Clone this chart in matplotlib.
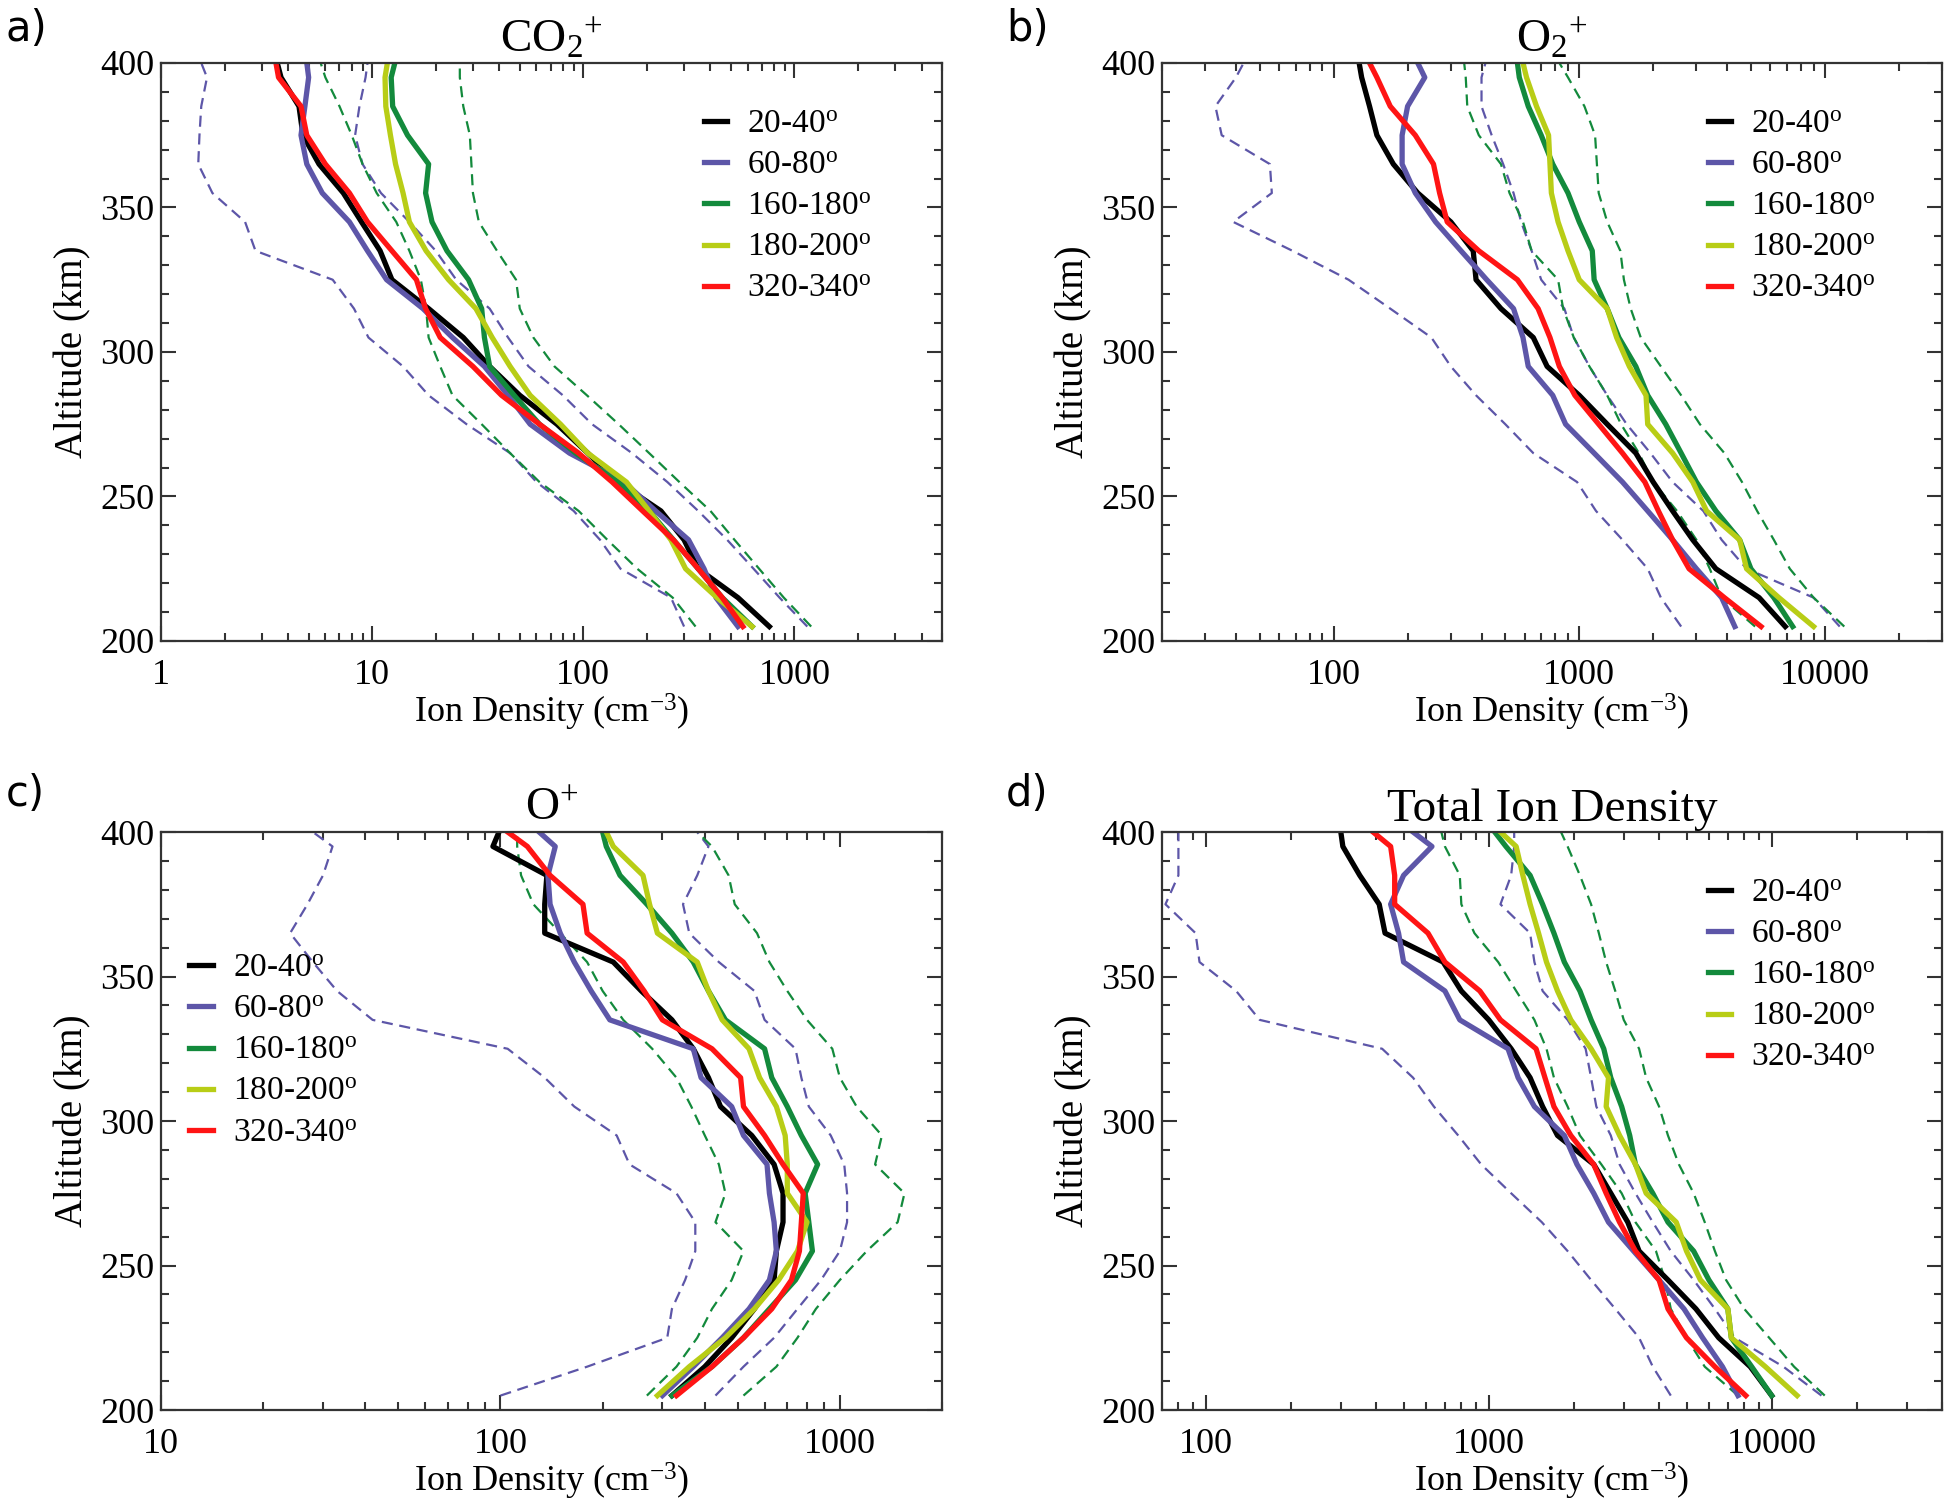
import numpy as np
import matplotlib
matplotlib.use('Agg')
import matplotlib.pyplot as plt
from matplotlib.ticker import LogLocator, MultipleLocator, FuncFormatter, NullFormatter

plt.rcParams['font.family'] = ['Liberation Serif', 'DejaVu Serif']
plt.rcParams['mathtext.fontset'] = 'custom'
plt.rcParams['mathtext.rm'] = 'Liberation Serif'
plt.rcParams['mathtext.it'] = 'Liberation Serif:italic'

# altitude bins (km), last value = top of the plot
alt = [205, 215, 225, 235, 245, 255, 265, 275, 285, 295, 305,
       315, 325, 335, 345, 355, 365, 375, 385, 395, 400]

labels = ['20-40', '60-80', '160-180', '180-200', '320-340']

# ---- a) CO2+
a_2040 = [760, 540, 350, 300, 233, 146, 105, 75, 50, 36, 27, 18.5, 12.4, 10.9, 8.9, 7.3, 5.6, 4.7, 4.5, 3.7, 3.55]
a_6080 = [540, 425, 373, 315, 220, 156, 86, 56, 44, 34, 24, 17.4, 11.7, 9.5, 7.8, 5.8, 4.9, 4.6, 4.8, 5.0, 4.9]
a_160180 = [630, 455, 350, 267, 205, 146, 92, 62, 47, 36, 34, 33, 28.6, 22.6, 19.2, 17.9, 18.5, 14.7, 12.5, 12.3, 12.8]
a_180200 = [630, 430, 305, 260, 205, 160, 105, 78, 56, 45, 37, 31, 23, 18, 15, 14, 12.9, 12.2, 11.6, 11.5, 11.8]
a_320340 = [570, 455, 350, 267, 191, 137, 95, 62, 41, 30, 21, 17.9, 16.2, 12.4, 9.5, 7.8, 6, 4.9, 4.6, 3.6, 3.5]
a_green_hi = [1200, 890, 680, 520, 400, 285, 205, 147, 104, 73, 58, 50, 48, 39, 32, 30, 29.5, 29, 27, 26, 26]
a_green_lo = [340, 265, 180, 130, 95, 62, 45, 33, 24, 21, 18.5, 18, 17, 15, 13, 10.5, 9, 8, 7, 6, 5.7]
a_purple_hi = [1150, 850, 640, 480, 350, 250, 170, 110, 80, 55, 44, 36, 25, 20, 15, 11, 9, 8.3, 8.7, 9.3, 9.5]
a_purple_lo = [300, 260, 150, 120, 90, 60, 45, 28, 18.5, 14, 9.6, 8.2, 6.5, 2.8, 2.5, 1.75, 1.5, 1.52, 1.55, 1.65, 1.55]

# ---- b) O2+
b_2040 = [6900, 5400, 3600, 2900, 2400, 2000, 1700, 1300, 1000, 740, 650, 480, 380, 370, 300, 220, 175, 150, 140, 130, 127]
b_6080 = [4300, 3800, 3000, 2400, 1900, 1500, 1150, 880, 780, 620, 590, 540, 420, 330, 260, 215, 190, 190, 200, 235, 220]
b_160180 = [7400, 6200, 5000, 4500, 3600, 3000, 2600, 2250, 1900, 1700, 1450, 1300, 1150, 1130, 1000, 900, 780, 700, 620, 570, 560]
b_180200 = [9000, 6500, 4800, 4500, 3300, 2900, 2400, 1900, 1870, 1600, 1420, 1300, 1000, 900, 820, 770, 760, 750, 670, 610, 590]
b_320340 = [5500, 3900, 2800, 2400, 2100, 1850, 1500, 1200, 960, 830, 760, 680, 560, 390, 290, 270, 255, 215, 170, 150, 140]
b_green_hi = [12000, 9000, 7200, 6200, 5300, 4600, 3900, 3100, 2600, 2150, 1780, 1620, 1520, 1470, 1300, 1200, 1180, 1160, 1050, 900, 830]
b_green_lo = [5200, 3800, 3400, 3000, 2500, 2000, 1750, 1480, 1300, 1100, 950, 860, 820, 640, 590, 520, 480, 390, 350, 345, 340]
b_purple_hi = [11500, 9000, 4800, 3800, 3200, 2400, 1950, 1560, 1300, 1100, 950, 870, 700, 640, 580, 540, 490, 440, 400, 400, 415]
b_purple_lo = [2600, 2150, 1900, 1500, 1170, 980, 650, 500, 380, 300, 250, 170, 115, 68, 39, 56, 55, 35, 33, 40, 43]

# ---- c) O+
c_2040 = [320, 400, 480, 560, 640, 650, 680, 680, 640, 550, 445, 410, 370, 320, 260, 215, 135, 135, 137, 95, 99]
c_6080 = [300, 370, 450, 540, 620, 650, 640, 620, 610, 520, 480, 390, 370, 210, 185, 165, 150, 140, 138, 145, 130]
c_160180 = [320, 420, 520, 620, 740, 830, 810, 790, 860, 770, 700, 630, 600, 460, 410, 370, 320, 270, 225, 205, 200]
c_180200 = [290, 360, 460, 560, 660, 750, 800, 700, 700, 690, 650, 580, 540, 450, 410, 380, 290, 275, 263, 215, 205]
c_320340 = [330, 420, 520, 630, 720, 760, 770, 780, 680, 600, 520, 510, 420, 300, 265, 230, 180, 175, 140, 120, 105]
c_green_hi = [520, 650, 750, 850, 1000, 1200, 1480, 1550, 1270, 1330, 1120, 1000, 950, 800, 700, 620, 570, 490, 470, 420, 380]
c_green_lo = [270, 330, 380, 420, 480, 520, 430, 460, 440, 400, 365, 330, 280, 230, 200, 180, 150, 125, 115, 112, 112]
c_purple_hi = [430, 520, 640, 750, 880, 1000, 1050, 1050, 1030, 940, 810, 770, 740, 600, 560, 440, 360, 345, 380, 410, 380]
c_purple_lo = [100, 180, 310, 320, 350, 375, 375, 330, 240, 220, 165, 135, 105, 42, 33, 28, 24, 27, 30, 32, 28]

# ---- d) total
d_2040 = [10000, 8400, 6500, 5400, 4300, 3400, 3100, 2700, 2350, 1750, 1550, 1400, 1200, 1000, 800, 690, 430, 410, 350, 305, 300]
d_6080 = [7600, 6700, 5700, 4900, 4000, 3250, 2650, 2350, 2050, 1850, 1450, 1270, 1170, 790, 700, 500, 480, 450, 500, 630, 540]
d_160180 = [10000, 8500, 7200, 7000, 6000, 5300, 4300, 3800, 3300, 3150, 2950, 2700, 2550, 2300, 2100, 1850, 1700, 1550, 1400, 1150, 1050]
d_180200 = [12300, 9500, 7200, 7000, 5600, 5000, 4600, 3600, 3300, 2900, 2600, 2650, 2300, 1950, 1750, 1600, 1500, 1400, 1320, 1250, 1100]
d_320340 = [8100, 6300, 5000, 4300, 4000, 3300, 2900, 2600, 2350, 1950, 1700, 1580, 1470, 1100, 930, 700, 610, 465, 465, 450, 390]
d_green_hi = [15400, 12000, 9800, 8000, 6900, 6300, 5800, 5300, 4700, 4300, 4000, 3600, 3400, 3000, 2800, 2600, 2450, 2300, 2100, 1900, 1800]
d_green_lo = [7600, 5800, 5000, 4400, 4200, 3900, 3300, 2950, 2500, 2100, 1900, 1700, 1600, 1450, 1250, 1080, 890, 800, 790, 700, 680]
d_purple_hi = [15000, 11000, 7400, 6300, 5300, 4400, 3800, 3300, 2900, 2700, 2400, 2300, 2200, 1900, 1550, 1450, 1400, 1100, 1200, 1230, 1230]
d_purple_lo = [4400, 3800, 3400, 2800, 2300, 1900, 1540, 1200, 940, 780, 640, 540, 420, 155, 128, 95, 92, 72, 80, 80, 80]

colors = ['#000000', '#5d56a8', '#138a3c', '#b8cd16', '#ff1414']
purple, green = colors[1], colors[2]


def draw_panel(ax, solid, dashed, xlim, title, leg_anchor):
    # dashed envelopes: purple hi/lo then green hi/lo
    for vals, c in zip(dashed, [purple, purple, green, green]):
        ax.plot(vals, alt, color=c, lw=1.6, ls=(0, (5, 3)))
    for vals, c, lab in zip(solid, colors, labels):
        ax.plot(vals, alt, color=c, lw=3.8, label=lab + r'$^{\mathrm{o}}$')
    ax.set_xscale('log')
    ax.set_xlim(*xlim)
    ax.set_ylim(200, 400)
    ax.xaxis.set_major_locator(LogLocator(base=10))
    ax.xaxis.set_minor_locator(LogLocator(base=10, subs=np.arange(2, 10)))
    ax.xaxis.set_major_formatter(FuncFormatter(lambda v, p: f'{v:g}'))
    ax.xaxis.set_minor_formatter(NullFormatter())
    ax.yaxis.set_major_locator(MultipleLocator(50))
    ax.yaxis.set_minor_locator(MultipleLocator(10))
    ax.tick_params(which='both', direction='in', top=True, right=True,
                   width=1.5, color='#333333', labelsize=26)
    ax.tick_params(which='major', length=11)
    ax.tick_params(which='minor', length=6)
    ax.tick_params(axis='x', pad=13)
    ax.tick_params(axis='y', pad=5)
    for s in ax.spines.values():
        s.set_linewidth(1.6)
        s.set_color('#333333')
    ax.set_xlabel(r'Ion Density (cm$^{-3}$)', fontsize=26, labelpad=0)
    ax.set_ylabel('Altitude (km)', fontsize=28, labelpad=6)
    ax.set_title(title, fontsize=34, pad=8)
    ax.legend(loc='upper left', bbox_to_anchor=leg_anchor, frameon=False,
              fontsize=24, handlelength=0.7, handletextpad=0.6,
              labelspacing=0.32, borderpad=0, borderaxespad=0)


fig = plt.figure(figsize=(19.5, 15.1), dpi=100)
ax_a = fig.add_axes([0.0826, 0.5755, 0.4005, 0.3828])
ax_b = fig.add_axes([0.5959, 0.5755, 0.4000, 0.3828])
ax_c = fig.add_axes([0.0826, 0.0662, 0.4005, 0.3828])
ax_d = fig.add_axes([0.5959, 0.0662, 0.4000, 0.3828])

draw_panel(ax_a, [a_2040, a_6080, a_160180, a_180200, a_320340],
           [a_purple_hi, a_purple_lo, a_green_hi, a_green_lo],
           (1, 5000), r'CO$_2$$^{+}$', (0.695, 0.92))
draw_panel(ax_b, [b_2040, b_6080, b_160180, b_180200, b_320340],
           [b_purple_hi, b_purple_lo, b_green_hi, b_green_lo],
           (20, 30000), r'O$_2$$^{+}$', (0.70, 0.92))
draw_panel(ax_c, [c_2040, c_6080, c_160180, c_180200, c_320340],
           [c_purple_hi, c_purple_lo, c_green_hi, c_green_lo],
           (10, 2000), r'O$^{+}$', (0.036, 0.79))
draw_panel(ax_d, [d_2040, d_6080, d_160180, d_180200, d_320340],
           [d_purple_hi, d_purple_lo, d_green_hi, d_green_lo],
           (70, 40000), 'Total Ion Density', (0.70, 0.92))

for x, y, t in [(0.003, 0.995, 'a)'), (0.516, 0.995, 'b)'),
                (0.003, 0.488, 'c)'), (0.516, 0.488, 'd)')]:
    fig.text(x, y, t, fontsize=30, family='DejaVu Sans', va='top', ha='left')

fig.savefig('out.png', dpi=100)
